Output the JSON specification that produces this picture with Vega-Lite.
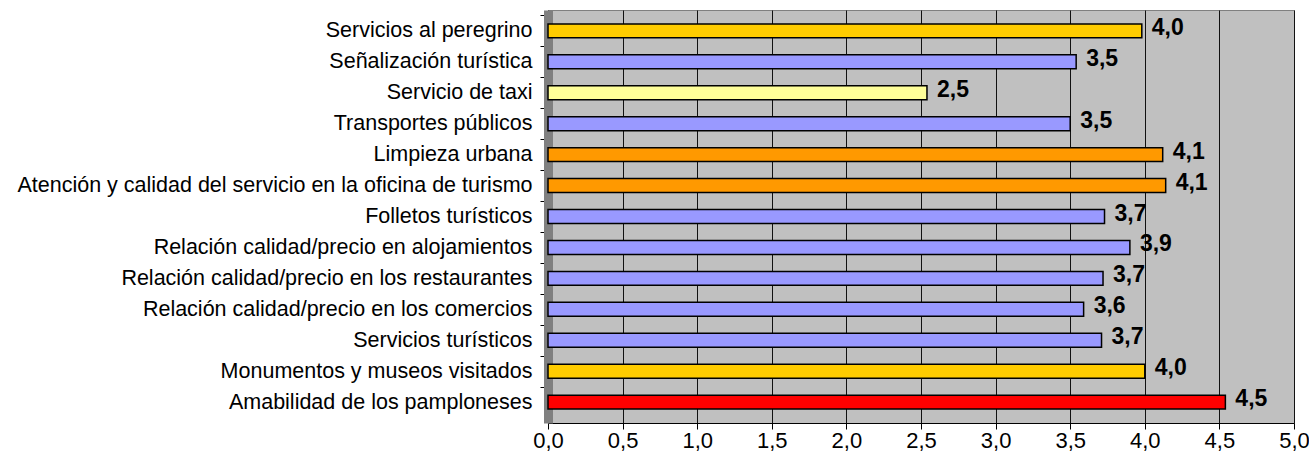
{
  "$schema": "https://vega.github.io/schema/vega-lite/v6.json",
  "width": 746,
  "height": 413,
  "autosize": "none",
  "padding": {"left": 548, "top": 10, "right": 15, "bottom": 40},
  "background": "white",
  "config": {
    "locale": {"number": {"decimal": ",", "thousands": ".", "grouping": [3], "currency": ["", " €"]}},
    "view": {"fill": "#C0C0C0", "stroke": "#808080", "strokeWidth": 1},
    "font": "Liberation Sans"
  },
  "data": {
    "values": [
      {"aspecto": "Servicios al peregrino", "valor": 3.98, "nivel": "alto"},
      {"aspecto": "Señalización turística", "valor": 3.54, "nivel": "medio"},
      {"aspecto": "Servicio de taxi", "valor": 2.54, "nivel": "bajo"},
      {"aspecto": "Transportes públicos", "valor": 3.50, "nivel": "medio"},
      {"aspecto": "Limpieza urbana", "valor": 4.12, "nivel": "muy alto"},
      {"aspecto": "Atención y calidad del servicio en la oficina de turismo", "valor": 4.14, "nivel": "muy alto"},
      {"aspecto": "Folletos turísticos", "valor": 3.73, "nivel": "medio"},
      {"aspecto": "Relación calidad/precio en alojamientos", "valor": 3.90, "nivel": "medio"},
      {"aspecto": "Relación calidad/precio en los restaurantes", "valor": 3.72, "nivel": "medio"},
      {"aspecto": "Relación calidad/precio en los comercios", "valor": 3.59, "nivel": "medio"},
      {"aspecto": "Servicios turísticos", "valor": 3.71, "nivel": "medio"},
      {"aspecto": "Monumentos y museos visitados", "valor": 4.00, "nivel": "alto"},
      {"aspecto": "Amabilidad de los pamploneses", "valor": 4.54, "nivel": "máximo"}
    ]
  },
  "encoding": {
    "y": {
      "field": "aspecto",
      "type": "nominal",
      "sort": null,
      "scale": {"paddingInner": 0.55, "paddingOuter": 0.45},
      "axis": {
        "title": null,
        "labelFontSize": 21.5,
        "labelColor": "black",
        "labelLimit": 700,
        "labelPadding": 8,
        "tickSize": 8,
        "tickColor": "black",
        "domainColor": "#808080",
        "domainWidth": 9,
        "tickOffset": -15.5,
        "labelOffset": 15.5
      }
    }
  },
  "layer": [
    {
      "mark": {"type": "bar", "stroke": "black", "strokeWidth": 1.5},
      "encoding": {
        "x": {
          "field": "valor",
          "type": "quantitative",
          "scale": {"domain": [0, 5], "nice": false, "zero": true},
          "axis": {
            "title": null,
            "values": [0, 0.5, 1, 1.5, 2, 2.5, 3, 3.5, 4, 4.5, 5],
            "format": ".1f",
            "labelFontSize": 22,
            "labelColor": "black",
            "labelFlush": false,
            "labelPadding": 1,
            "tickSize": 6,
            "tickColor": "black",
            "domainColor": "black",
            "grid": true,
            "gridColor": "#111111",
            "gridWidth": 1
          }
        },
        "color": {
          "field": "nivel",
          "type": "nominal",
          "legend": null,
          "scale": {
            "domain": ["máximo", "muy alto", "alto", "medio", "bajo"],
            "range": ["#FF0000", "#FF9900", "#FFCC00", "#9999FF", "#FFFF99"]
          }
        }
      }
    },
    {
      "mark": {"type": "text", "align": "left", "baseline": "middle", "dx": 10, "dy": -3, "fontSize": 23, "fontWeight": "bold", "color": "black"},
      "encoding": {
        "x": {"field": "valor", "type": "quantitative"},
        "text": {"field": "valor", "type": "quantitative", "format": ".1f"}
      }
    }
  ]
}
